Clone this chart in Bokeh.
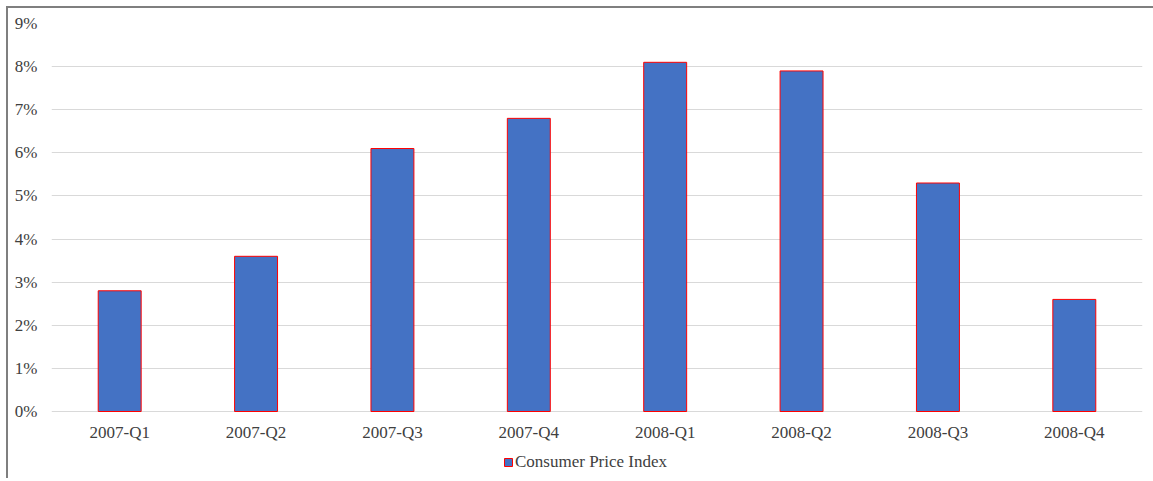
from bokeh.plotting import figure
from bokeh.models import ColumnDataSource, FixedTicker, PrintfTickFormatter, Legend, LegendItem, Range1d
from bokeh.core.properties import value
from bokeh.embed import file_html
from bokeh.resources import INLINE

quarters = ["2007-Q1", "2007-Q2", "2007-Q3", "2007-Q4", "2008-Q1", "2008-Q2", "2008-Q3", "2008-Q4"]
cpi = [2.8, 3.6, 6.1, 6.8, 8.1, 7.9, 5.3, 2.6]
y_ticks = [0, 1, 2, 3, 4, 5, 6, 7, 8, 9]

src = ColumnDataSource(dict(q=quarters, v=cpi, ly=[-0.49] * len(quarters)))

p = figure(x_range=quarters, y_range=Range1d(-1.554, 9),
           frame_width=1091, frame_height=455,
           output_backend="svg", toolbar_location=None,
           min_border_left=43, min_border_right=11, min_border_top=15, min_border_bottom=0)
p.margin = (6, 0, 0, 6)
p.styles = {"border-top": "2px solid #7f7f7f", "border-left": "2px solid #7f7f7f"}

r = p.vbar(x="q", top="v", width=0.315, source=src, fill_color="#4472C4",
           line_color="#FF0000", line_width=1)

p.text(x="q", y="ly", text="q", source=src, text_align="center", text_baseline="middle",
       text_font=value("Liberation Serif"), text_font_size="17px", text_color="#404040")

p.outline_line_color = None
p.xaxis.visible = False
p.xgrid.grid_line_color = None
ticker = FixedTicker(ticks=y_ticks)
p.yaxis.ticker = ticker
p.ygrid.ticker = ticker
p.ygrid.grid_line_color = "#d9d9d9"
p.ygrid.grid_line_width = 1
p.yaxis.formatter = PrintfTickFormatter(format="%d%%")
p.yaxis.axis_line_color = None
p.yaxis.major_tick_line_color = None
p.yaxis.minor_tick_line_color = None
p.yaxis.major_label_text_font = "Liberation Serif"
p.yaxis.major_label_text_font_size = "17px"
p.yaxis.major_label_text_color = "#404040"
p.yaxis.major_label_standoff = 8

legend = Legend(items=[LegendItem(label="Consumer Price Index", renderers=[r])],
                orientation="horizontal", location=(452, 6),
                label_text_font="Liberation Serif", label_text_font_size="17px",
                label_text_color="#404040", glyph_width=10, glyph_height=10,
                label_standoff=2, border_line_color=None,
                background_fill_alpha=0, padding=2, margin=0)
p.add_layout(legend)

open("out.html", "w").write(file_html(p, INLINE))
